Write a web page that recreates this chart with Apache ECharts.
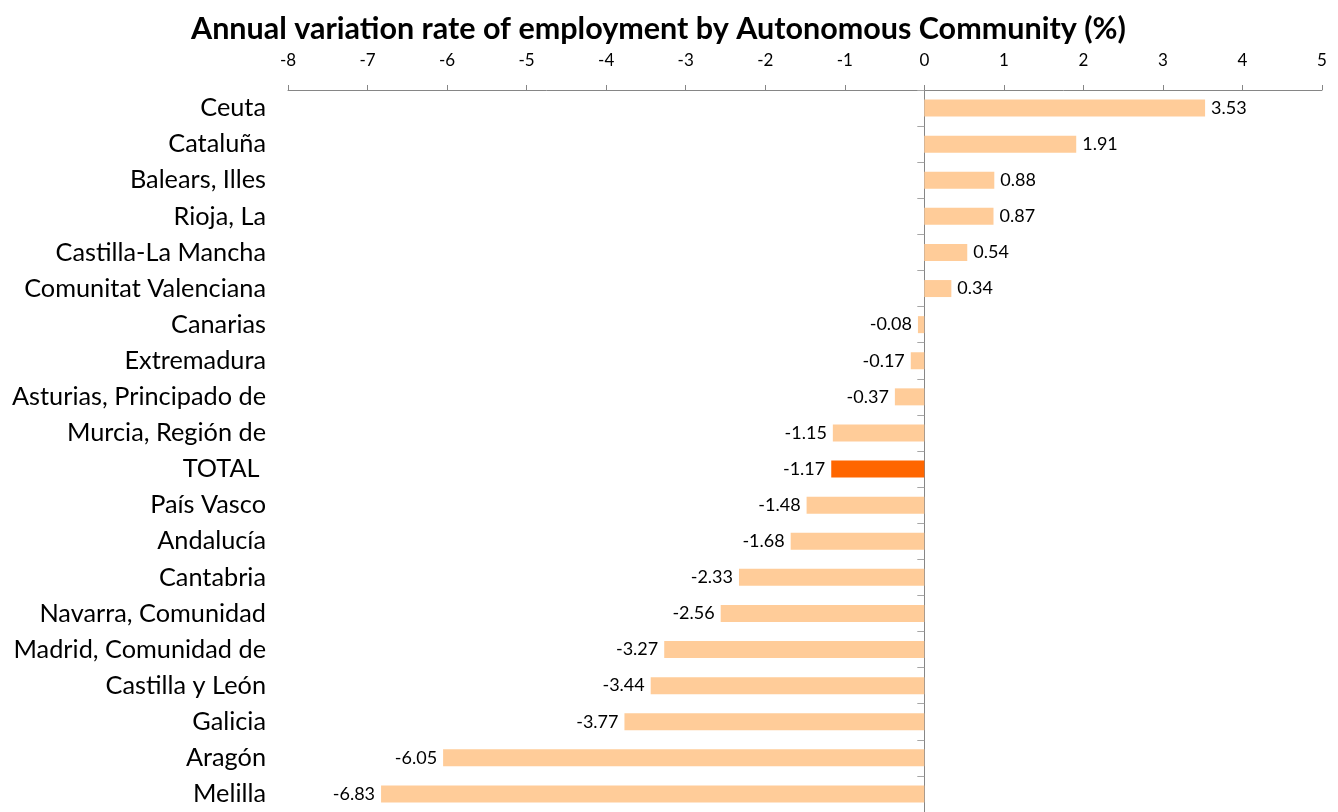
<!DOCTYPE html>
<html>
<head>
<meta charset="utf-8">
<script src="https://cdn.jsdelivr.net/npm/echarts@6/dist/echarts.min.js"></script>
<style>html,body{margin:0;padding:0;background:#fff}#c{width:1338px;height:812px}</style>
</head>
<body>
<div id="c"></div>
<script>
const categories = ["Ceuta","Cataluña","Balears, Illes","Rioja, La","Castilla-La Mancha","Comunitat Valenciana","Canarias","Extremadura","Asturias, Principado de","Murcia, Región de","TOTAL ","País Vasco","Andalucía","Cantabria","Navarra, Comunidad","Madrid, Comunidad de","Castilla y León","Galicia","Aragón","Melilla"];
const values = [3.53,1.91,0.88,0.87,0.54,0.34,-0.08,-0.17,-0.37,-1.15,-1.17,-1.48,-1.68,-2.33,-2.56,-3.27,-3.44,-3.77,-6.05,-6.83];
const highlight = "TOTAL ";
const titleText = "Annual variation rate of employment by Autonomous Community (%)";

const FONT = "Lato";
const seriesData = values.map((v, i) => ({
  value: v,
  itemStyle: { color: categories[i] === highlight ? "#FF6600" : "#FFCC99" },
  label: { position: v < 0 ? "left" : "right" }
}));

const chart = echarts.init(document.getElementById("c"), null, { renderer: "canvas" });
chart.setOption({
  animation: false,
  backgroundColor: "#fff",
  title: {
    text: titleText, left: 186, top: 9,
    textStyle: { fontFamily: FONT, fontWeight: "bold", fontSize: 30.5, color: "#000" }
  },
  grid: { left: 288, right: 16, top: 90, height: 727, containLabel: false },
  xAxis: {
    type: "value", position: "top", min: -8, max: 5, interval: 1,
    splitLine: { show: false },
    axisLine: { show: true, lineStyle: { color: "#868686", width: 1 } },
    axisTick: { show: true, length: 5, lineStyle: { color: "#868686" } },
    axisLabel: { fontFamily: FONT, fontSize: 17, color: "#000", margin: 21 }
  },
  yAxis: [
    {
      type: "category", data: categories, inverse: true, position: "left",
      axisLine: { show: false, onZero: false }, axisTick: { show: false },
      axisLabel: { fontFamily: FONT, fontSize: 25.3, color: "#000", margin: 22 }
    },
    {
      type: "category", data: categories, inverse: true, position: "left",
      axisLine: { show: true, onZero: true, lineStyle: { color: "#868686", width: 1 } },
      axisTick: { show: true, length: 7, lineStyle: { color: "#A6A6A6" } },
      axisLabel: { show: false }
    }
  ],
  series: [{
    type: "bar", yAxisIndex: 0, data: seriesData, barWidth: 17,
    label: { show: true, distance: 6, fontFamily: FONT, fontSize: 18, color: "#000",
      formatter: p => p.value.toFixed(2) }
  }]
});
</script>
</body>
</html>
